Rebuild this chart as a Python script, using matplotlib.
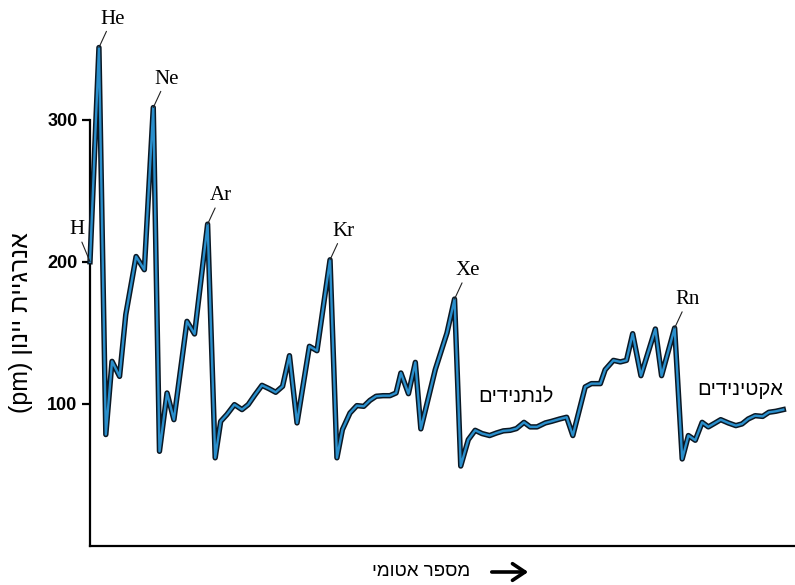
import numpy as np
import matplotlib
matplotlib.use("Agg")
import matplotlib.pyplot as plt
import matplotlib.patheffects as pe

# ---- data ----
atomic_number = [1.0, 2.3, 3.3, 4.2, 5.3, 6.2, 7.7, 8.9, 10.2, 11.1, 12.2, 13.2, 15.1, 16.2, 18.1,
                 19.2, 20.0, 20.9, 22.0, 23.1, 24.0, 25.0, 26.0, 27.0, 28.0, 29.0, 30.0, 31.1, 32.9, 34.0, 35.9,
                 36.9, 37.7, 38.8, 39.8, 40.8, 41.7, 42.6, 43.6, 44.6, 45.5, 46.2, 47.3, 48.3, 49.1, 51.2, 52.9, 54.0,
                 54.9, 56.0, 57.0, 58.0, 59.1, 60.1, 61.1, 62.1, 63.0, 64.1, 65.0, 66.0, 67.2, 68.1, 69.3, 70.3, 71.2,
                 73.0, 73.9, 75.2, 75.9, 77.1, 78.1, 79.0, 79.9, 81.1, 83.2, 84.1, 86.0,
                 87.1, 88.0, 89.0, 90.0, 90.9, 91.9, 92.7, 93.8, 94.9, 95.8, 96.7, 97.7, 98.8, 99.7, 100.7, 101.8]
ionization = [200, 351, 78.2, 129.8, 119.2, 162.7, 203.7, 194.4, 308.7, 66.4, 107.5, 88.7, 158, 149.1, 226.5,
              61.8, 87.5, 92.3, 99.3, 95.8, 99.3, 106.3, 112.9, 110.6, 108, 112.2, 133.8, 86.4, 140.4, 137.3, 201.4,
              61.8, 81.7, 93.4, 98.6, 98.1, 102.3, 105.2, 105.6, 105.6, 107.5, 121.6, 107, 129.1, 82.2, 124, 149.8, 173.7,
              56, 74.6, 81.2, 78.9, 77.5, 79.3, 80.8, 81.2, 82.4, 86.8, 83.6, 83.6, 86.4, 87.5, 89.2, 90.4, 77.5,
              111.8, 114.1, 114.1, 123.9, 130.5, 129.4, 130.5, 149.3, 119.7, 152.6, 119.7, 153.3,
              61, 77.5, 74.2, 86.8, 83.6, 86.4, 88.7, 86.4, 84.5, 85.7, 89.2, 91.5, 91, 93.9, 94.6, 95.8]

label_names = ["H", "He", "Ne", "Ar", "Kr", "Xe", "Rn"]
label_z = [1.0, 2.3, 10.2, 18.1, 35.9, 54.0, 86.0]

y_ticks = [100, 200, 300]
y_label = "אנרגיית יינון"
x_label = "מספר אטומי"
lanthanides = "לנתנידים"
actinides = "אקטינידים"


def heb(s):
    # visual order for right-to-left text
    return s[::-1]


HEB_FONT = ["Liberation Sans", "DejaVu Sans"]

fig = plt.figure(figsize=(7.95, 5.85), dpi=100)
ax = fig.add_axes([90 / 795, 39.5 / 585, 705 / 795, 545.5 / 585])
ax.set_xlim(1.0, 103.5)
ax.set_ylim(0, 384.5)

x = np.array(atomic_number)
y = np.array(ionization)
ax.plot(x, y, color="#2a8fcc", lw=1.7, solid_joinstyle="round", clip_on=False, zorder=3,
        path_effects=[pe.Stroke(linewidth=3.9, foreground="#0b1824", joinstyle="round"), pe.Normal()])

for sp in ["top", "right"]:
    ax.spines[sp].set_visible(False)
ax.spines["left"].set_bounds(0, 300)
ax.spines["left"].set_linewidth(1.6)
ax.spines["bottom"].set_linewidth(1.6)
ax.set_xticks([])
ax.set_yticks(y_ticks)
ax.set_yticklabels([str(t) for t in y_ticks], fontsize=13, fontweight="bold",
                   family=["Liberation Sans", "DejaVu Sans"])
ax.tick_params(axis="y", length=6, width=1.6, pad=3)

# element labels with leader lines
for name, zz in zip(label_names, label_z):
    i = int(np.argmin(np.abs(x - zz)))
    dx = -9.5 if name == "H" else 9.5
    dy = 23 if name == "H" else 20.5
    ax.annotate(name, xy=(x[i], y[i]), xytext=(dx, dy), textcoords="offset points",
                ha="center", va="center", fontsize=15, family=["Liberation Serif", "DejaVu Serif"],
                arrowprops=dict(arrowstyle="-", lw=0.8, color="#222222", shrinkA=0, shrinkB=0),
                zorder=4)

# block labels
ax.text(62.9, 105, heb(lanthanides), ha="center", va="center", fontsize=14.5, family=HEB_FONT)
ax.text(95.5, 110, heb(actinides), ha="center", va="center", fontsize=14.5, family=HEB_FONT)

# axis labels
fig.text(21 / 795, 1 - 323 / 585, "(pm) " + heb(y_label), rotation=90, ha="center", va="center",
         fontsize=18, family=HEB_FONT)
fig.text(421 / 795, 1 - 572 / 585, heb(x_label), ha="center", va="center", fontsize=13.5, family=HEB_FONT)
fig.add_artist(matplotlib.patches.FancyArrowPatch(
    (489 / 795, 1 - 572 / 585), (531 / 795, 1 - 572 / 585), transform=fig.transFigure,
    arrowstyle="->,head_length=6,head_width=4", lw=2.6, color="black", mutation_scale=1.5))

fig.savefig("out.png", dpi=100)
